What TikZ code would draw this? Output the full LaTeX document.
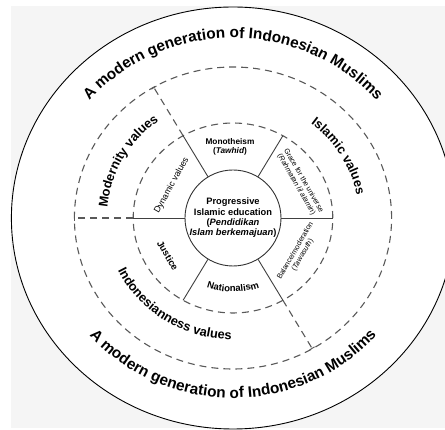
\documentclass[tikz,border=0pt]{standalone}
\usepackage{fontspec}
\setmainfont{Liberation Sans}
\usepackage{tikz}
\usetikzlibrary{arrows.meta, decorations.text}
\newcommand\outertxt{\bfseries\fontsize{15.3}{17}\selectfont}
\newcommand\ringtxt{\bfseries\fontsize{12.8}{14}\selectfont}
\newcommand\midtxt{\bfseries\fontsize{9.5}{10.5}\selectfont}

\begin{document}
\begin{tikzpicture}[
  x=1pt, y=1pt,
  ring/.style={dash pattern=on 7pt off 5pt, line width=1.1pt, draw=black!65},
  spoke/.style={line width=0.9pt, draw=black!75},
  ext/.style={ring, -{Bar[width=6pt, line width=0.9pt]}},
  core/.style={circle, draw=black!80, line width=0.9pt, fill=white,
               minimum size=96pt, inner sep=0pt, align=center,
               font=\bfseries\fontsize{9.3}{10.4}\selectfont},
  sectlbl/.style={align=center, inner sep=1pt, font=\bfseries\fontsize{8.3}{9.3}\selectfont},
  midlbl/.style={inner sep=1pt, font=\midtxt},
  minilbl/.style={align=center, inner sep=1pt, font=\fontsize{7.3}{8.3}\selectfont},
  bandtxt/.style={decorate, decoration={text along path, text align=center, text={#1}}},
]
  \useasboundingbox (-233,-212) rectangle (212,218);
  \fill[black!4] (-222,-210) rectangle (212,212);
  \draw[fill=white, line width=0.9pt] (0,0) ellipse[x radius=221.6, y radius=211];
  \draw[ring] (0,0) ellipse[x radius=158.6, y radius=151];
  \draw[ring] (0,0) ellipse[x radius=99.8, y radius=95];

  \node[core] (core) at (0,0) {Progressive\\Islamic education\\(\textit{Pendidikan}\\\textit{Islam berkemajuan})};

  \coordinate (i0) at (0:99.8 and 95);
  \coordinate (i60) at (60:99.8 and 95);
  \coordinate (i120) at (120:99.8 and 95);
  \coordinate (i180) at (180:99.8 and 95);
  \coordinate (i240) at (240:99.8 and 95);
  \coordinate (i300) at (300:99.8 and 95);
  \coordinate (o120) at (120:158.6 and 151);
  \coordinate (o180) at (180:158.6 and 151);
  \coordinate (o300) at (300:158.6 and 151);

  \draw[spoke] (core) -- (i0);
  \draw[spoke] (core) -- (i60);
  \draw[spoke] (core) -- (i120);
  \draw[spoke] (core) -- (i180);
  \draw[spoke] (core) -- (i240);
  \draw[spoke] (core) -- (i300);
  \draw[ext] (i120) -- (o120);
  \draw[ext] (i180) -- (o180);
  \draw[ext] (i300) -- (o300);

  \node[sectlbl] (mono) at (-3,71) {Monotheism\\(\textit{Tawhid})};
  \node[minilbl, font=\fontsize{8.8}{9.5}\selectfont, rotate=61] (dyn) at (151:70 and 67) {Dynamic values};
  \node[midlbl, rotate=-60] (just) at (211:76 and 73) {Justice};
  \node[minilbl, rotate=-60] (grace) at (29:76.5 and 73) {Grace for the universe\\(\textit{Rahmatan lil alamin})};
  \node[minilbl, rotate=60] (bal) at (-29:75.5 and 72) {Balance/moderation\\(\textit{Tawasuth})};
  \path[bandtxt={|\midtxt|Nationalism}] (225:77.7 and 74) arc[start angle=225, end angle=315, x radius=77.7, y radius=74];

  \path[bandtxt={|\ringtxt|Islamic values}] (76:126 and 120) arc[start angle=76, end angle=-14, x radius=126, y radius=120];
  \path[bandtxt={|\ringtxt|Modernity values}] (196:126 and 120) arc[start angle=196, end angle=106, x radius=126, y radius=120];
  \path[bandtxt={|\ringtxt|Indonesianness values}] (187:127.5 and 121.5) arc[start angle=187, end angle=287, x radius=127.5, y radius=121.5];

  \path[bandtxt={|\outertxt|A modern generation of Indonesian Muslims}] (170:189 and 180) arc[start angle=170, end angle=10, x radius=189, y radius=180];
  \path[bandtxt={|\outertxt|A modern generation of Indonesian Muslims}] (190:189 and 180) arc[start angle=190, end angle=350, x radius=189, y radius=180];
\end{tikzpicture}
\end{document}
